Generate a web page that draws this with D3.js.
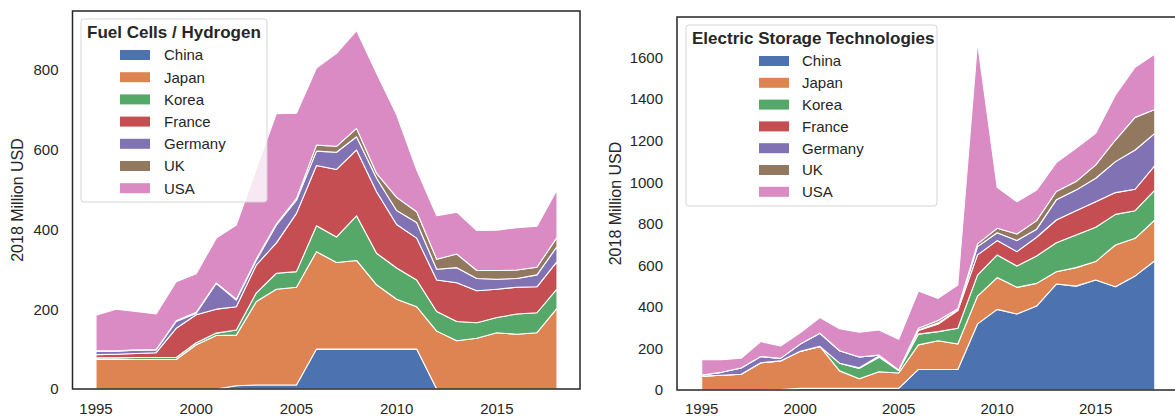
<!DOCTYPE html>
<html>
<head>
<meta charset="utf-8">
<script src="https://cdn.jsdelivr.net/npm/d3@7"></script>
<style>
  body { margin: 0; background: #fff; }
  text { font-family: "Liberation Sans", Arial, sans-serif; fill: #262626; }
</style>
</head>
<body>
<div class="chart"></div>
<script>
var years = d3.range(1995, 2019);
var countries = ["China", "Japan", "Korea", "France", "Germany", "UK", "USA"];
var colors = ["#4C72B0", "#DD8452", "#55A868", "#C44E52", "#8172B3", "#937860", "#DA8BC3"];

// Fuel Cells / Hydrogen (2018 Million USD)
var fcChina   = [0,0,0,0,0,0,0,8,10,10,10,100,100,100,100,100,100,0,0,0,0,0,0,0];
var fcJapan   = [74,74,74,74,74,111,134,127,209,240,245,244,217,222,161,125,106,145,121,127,141,137,141,202];
var fcKorea   = [4,4,5,5,5,5,6,13,22,40,39,65,64,112,79,78,67,49,48,39,38,51,50,49];
var fcFrance  = [8,9,10,12,73,70,60,58,70,76,146,151,169,165,154,109,105,79,97,80,71,67,65,68];
var fcGermany = [9,8,8,7,17,4,65,17,12,45,33,36,43,33,34,35,39,27,38,31,25,22,30,38];
var fcUK      = [1,1,1,1,2,2,1,2,3,3,4,15,15,21,12,33,27,25,34,20,22,21,19,23];
var fcUSA     = [89,104,96,89,98,97,112,186,226,276,214,193,233,245,251,207,105,109,105,100,101,106,103,119];

// Electric Storage Technologies (2018 Million USD)
var esChina   = [0,0,0,0,2,8,8,8,8,8,8,99,99,99,318,388,366,404,510,500,529,497,549,622];
var esJapan   = [67,71,76,131,138,178,202,84,46,80,74,118,138,122,134,153,128,109,59,89,89,201,181,196];
var esKorea   = [0,0,0,0,0,0,0,37,50,70,12,52,44,76,101,109,103,132,140,157,165,147,133,144];
var esFrance  = [0,0,0,0,0,0,0,0,3,6,0,17,37,85,97,69,69,90,109,117,123,105,103,118];
var esGermany = [5,14,30,30,12,35,63,60,52,4,2,3,5,3,40,38,53,39,97,99,113,149,189,155];
var esUK      = [0,0,0,0,0,0,0,0,0,0,0,8,11,6,13,21,32,41,40,41,64,104,157,115];
var esUSA     = [74,61,47,72,60,54,76,106,119,121,148,179,107,114,968,197,155,147,139,160,152,217,241,267];

var xTicks = [1995, 2000, 2005, 2010, 2015];

function buildRows(series) {
  return years.map(function(y, i) {
    var row = {year: y};
    countries.forEach(function(c, k) { row[c] = series[k][i]; });
    return row;
  });
}

var width = 1175, height = 420;
var svg = d3.select(".chart").append("svg")
  .attr("width", width).attr("height", height);

var panels = [
  {
    title: "Fuel Cells / Hydrogen",
    rows: buildRows([fcChina, fcJapan, fcKorea, fcFrance, fcGermany, fcUK, fcUSA]),
    frame: {left: 72.5, right: 580, top: 11, bottom: 389},
    xRange: [96, 557],
    yMax: 947, yTicks: [0, 200, 400, 600, 800],
    ylabX: 17,
    legend: {x: 81, y: 19, w: 186, h: 183, titleX: 87, titleY: 38, patchX: 120, labelX: 164, rowY: 55, rowStep: 22.2}
  },
  {
    title: "Electric Storage Technologies",
    rows: buildRows([esChina, esJapan, esKorea, esFrance, esGermany, esUK, esUSA]),
    frame: {left: 677, right: 1180, top: 17, bottom: 390},
    xRange: [701.7, 1154.8],
    yMax: 1795, yTicks: [0, 200, 400, 600, 800, 1000, 1200, 1400, 1600],
    ylabX: 615,
    legend: {x: 686, y: 25, w: 251, h: 181, titleX: 692, titleY: 44, patchX: 759, labelX: 802, rowY: 61, rowStep: 21.8}
  }
];

var stack = d3.stack().keys(countries);

panels.forEach(function(p) {
  var f = p.frame;
  var x = d3.scaleLinear().domain([1995, 2018]).range(p.xRange);
  var y = d3.scaleLinear().domain([0, p.yMax]).range([f.bottom, f.top]);
  var g = svg.append("g");

  var area = d3.area()
    .x(function(d) { return x(d.data.year); })
    .y0(function(d) { return y(d[0]); })
    .y1(function(d) { return y(d[1]); });

  g.selectAll("path.layer")
    .data(stack(p.rows))
    .enter().append("path")
    .attr("class", "layer")
    .attr("d", area)
    .attr("fill", function(d, i) { return colors[i]; })
    .attr("stroke", "#fff")
    .attr("stroke-width", 1.1)
    .attr("stroke-linejoin", "round");

  // frame
  g.append("rect")
    .attr("x", f.left).attr("y", f.top)
    .attr("width", f.right - f.left).attr("height", f.bottom - f.top)
    .attr("fill", "none").attr("stroke", "#262626").attr("stroke-width", 1.5);

  // y ticks
  g.selectAll("text.ytick")
    .data(p.yTicks)
    .enter().append("text")
    .attr("class", "ytick")
    .attr("x", f.left - 14)
    .attr("y", function(d) { return y(d); })
    .attr("dy", "0.36em")
    .attr("text-anchor", "end")
    .style("font-size", "15px")
    .text(function(d) { return d; });

  // x ticks
  g.selectAll("text.xtick")
    .data(xTicks)
    .enter().append("text")
    .attr("class", "xtick")
    .attr("x", function(d) { return x(d); })
    .attr("y", 413.5)
    .attr("text-anchor", "middle")
    .style("font-size", "15px")
    .text(function(d) { return d; });

  // y label
  g.append("text")
    .attr("transform", "translate(" + (p.ylabX + 6) + "," + ((f.top + f.bottom) / 2) + ") rotate(-90)")
    .attr("text-anchor", "middle")
    .style("font-size", "16px")
    .text("2018 Million USD");

  // legend
  var L = p.legend;
  var lg = g.append("g");
  lg.append("rect")
    .attr("x", L.x).attr("y", L.y).attr("width", L.w).attr("height", L.h)
    .attr("rx", 3)
    .attr("fill", "rgba(255,255,255,0.8)")
    .attr("stroke", "#d6d6d6").attr("stroke-width", 1);
  lg.append("text")
    .attr("x", L.titleX).attr("y", L.titleY)
    .style("font-size", "17px").style("font-weight", "bold")
    .text(p.title);
  countries.forEach(function(c, i) {
    var cy = L.rowY + i * L.rowStep;
    lg.append("rect")
      .attr("x", L.patchX).attr("y", cy - 5)
      .attr("width", 30).attr("height", 10)
      .attr("fill", colors[i]);
    lg.append("text")
      .attr("x", L.labelX).attr("y", cy)
      .attr("dy", "0.36em")
      .style("font-size", "15px")
      .text(c);
  });
});
</script>
</body>
</html>
